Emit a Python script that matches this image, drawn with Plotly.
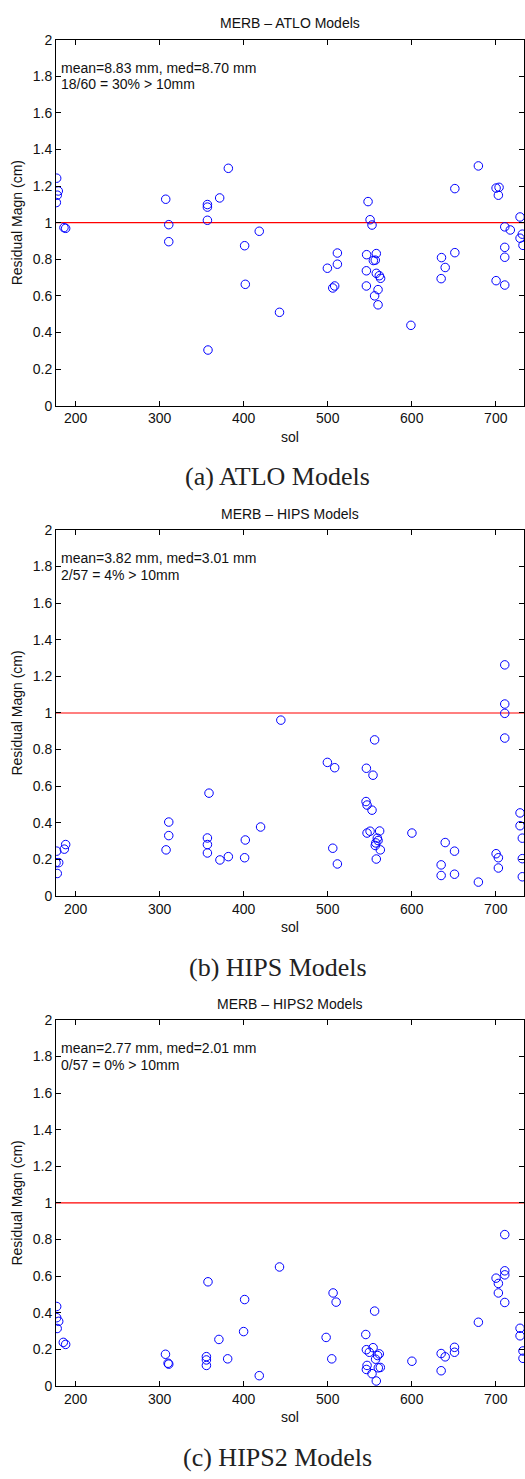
import plotly.graph_objects as go

# ---------------- data ----------------
sol_atlo = [177.4, 179.3, 178.1, 177.0, 186.1, 188.1,
            307.2, 310.8, 310.8,
            356.8, 356.8, 356.8, 357.5,
            371.4, 381.7, 401.1, 401.9, 418.5, 442.6,
            499.6, 511.5, 511.5, 506.0, 508.3,
            548.0, 550.4, 552.7, 546.3, 557.8, 554.3, 556.6, 546.0, 557.8, 561.4, 562.9, 546.0, 559.9, 555.8, 559.9,
            599.0,
            635.4, 639.8, 635.0, 651.3, 651.3,
            679.3,
            700.4, 703.9, 703.1, 710.7, 717.3, 710.7, 710.7, 700.4, 710.7,
            728.9, 728.9, 731.6, 732.4]
res_atlo = [1.243, 1.173, 1.150, 1.110, 0.973, 0.969,
            1.128, 0.989, 0.896,
            1.099, 1.085, 1.013, 0.304,
            1.135, 1.297, 0.874, 0.663, 0.953, 0.510,
            0.751, 0.834, 0.773, 0.643, 0.654,
            1.115, 1.016, 0.987, 0.825, 0.831, 0.793, 0.795, 0.737, 0.723, 0.710, 0.696, 0.654, 0.634, 0.600, 0.551,
            0.439,
            0.809, 0.755, 0.694, 0.836, 1.186,
            1.310,
            1.189, 1.193, 1.150, 0.977, 0.960, 0.865, 0.811, 0.683, 0.659,
            1.031, 0.915, 0.937, 0.876]

sol_hips = [177.4, 176.6, 179.8, 178.1, 186.5, 188.1,
            307.6, 310.8, 310.8,
            356.8, 356.8, 356.8, 358.7,
            371.7, 381.7, 401.9, 401.1, 420.1, 444.2,
            499.6, 508.3, 506.0, 511.5,
            555.8, 546.0, 553.9, 545.6, 546.8, 552.7, 546.8, 550.4, 561.8, 559.0, 559.9, 556.6, 562.6, 557.8, 557.2,
            600.2,
            639.8, 650.9, 635.0, 635.0, 650.9,
            679.3,
            700.4, 703.1, 703.1, 710.7, 710.7, 710.7, 710.7,
            728.9, 728.9, 731.6, 731.6, 731.6]
res_hips = [0.245, 0.182, 0.182, 0.123, 0.256, 0.281,
            0.252, 0.330, 0.404,
            0.317, 0.281, 0.235, 0.562,
            0.197, 0.215, 0.306, 0.209, 0.377, 0.961,
            0.730, 0.701, 0.261, 0.175,
            0.853, 0.698, 0.660, 0.516, 0.497, 0.469, 0.344, 0.354, 0.355, 0.316, 0.303, 0.276, 0.252, 0.202, 0.290,
            0.344,
            0.292, 0.245, 0.170, 0.112, 0.119,
            0.076,
            0.231, 0.209, 0.153, 1.263, 1.049, 0.998, 0.863,
            0.454, 0.384, 0.316, 0.204, 0.105]

sol_hips2 = [177.4, 177.4, 179.8, 178.0, 185.3, 188.1,
             306.9, 310.0, 310.8,
             357.5, 355.6, 355.6, 355.6,
             370.5, 380.9, 401.1, 399.9, 418.5, 442.6,
             498.1, 506.4, 510.0, 504.8,
             545.3, 546.0, 554.0, 549.5, 561.4, 559.4, 557.0, 546.8, 546.0, 560.2, 562.6, 552.7, 557.8, 555.8,
             600.2,
             635.0, 639.8, 635.0, 650.9, 650.9,
             679.3,
             700.4, 703.1, 703.1, 710.7, 710.7, 710.7, 710.7,
             728.9, 728.9, 732.4, 732.4]
res_hips2 = [0.434, 0.373, 0.353, 0.314, 0.238, 0.227,
             0.173, 0.124, 0.119,
             0.569, 0.160, 0.142, 0.112,
             0.254, 0.148, 0.472, 0.297, 0.056, 0.650,
             0.265, 0.508, 0.458, 0.148,
             0.281, 0.198, 0.209, 0.184, 0.175, 0.166, 0.146, 0.112, 0.090, 0.099, 0.101, 0.067, 0.027, 0.409,
             0.135,
             0.177, 0.159, 0.083, 0.211, 0.184,
             0.348,
             0.589, 0.560, 0.508, 0.827, 0.629, 0.607, 0.456,
             0.315, 0.274, 0.191, 0.151]

titles = ["MERB \u2013 ATLO Models", "MERB \u2013 HIPS Models", "MERB \u2013 HIPS2 Models"]
stats_line1 = ["mean=8.83 mm, med=8.70 mm", "mean=3.82 mm, med=3.01 mm", "mean=2.77 mm, med=2.01 mm"]
stats_line2 = ["18/60 = 30% > 10mm", "2/57 = 4% > 10mm", "0/57 = 0% > 10mm"]
captions = ["(a) ATLO Models", "(b) HIPS Models", "(c) HIPS2 Models"]
x_ticks = [200, 300, 400, 500, 600, 700]
y_ticks = [0, 0.2, 0.4, 0.6, 0.8, 1, 1.2, 1.4, 1.6, 1.8, 2]
threshold = 1.0

series = [(sol_atlo, res_atlo), (sol_hips, res_hips), (sol_hips2, res_hips2)]

# ---------------- layout geometry ----------------
W, H = 525, 1479
tops = [32, 527.7, 1023]
plot_h = 370
x_range = [176.6, 733.6]
FONT = "Liberation Sans, Arial, Helvetica, sans-serif"

fig = go.Figure()
layout = dict(
    width=W, height=H,
    margin=dict(l=56, r=0, t=0, b=0),
    paper_bgcolor="white", plot_bgcolor="white",
    showlegend=False,
    font=dict(family=FONT, size=14, color="#111"),
)
annotations = []
shapes = []

for i, (sx, sy) in enumerate(series):
    n = "" if i == 0 else str(i + 1)
    top = tops[i]
    bot = top + plot_h
    dom = [1 - bot / H, 1 - top / H]
    fig.add_trace(go.Scatter(
        x=sx, y=sy, mode="markers",
        xaxis="x" + n, yaxis="y" + n,
        marker=dict(symbol="circle-open", size=8.5, color="#0000ff",
                    line=dict(width=1, color="#0000ff")),
        cliponaxis=True,
    ))
    layout["xaxis" + n] = dict(
        domain=[0, 1], range=x_range, anchor="y" + n,
        tickvals=x_ticks, ticks="inside", ticklen=5, tickcolor="black",
        showline=True, linecolor="black", linewidth=1, mirror="ticks",
        showgrid=False, zeroline=False,
        title=dict(text="sol", standoff=6, font=dict(size=14)),
        tickfont=dict(size=14),
    )
    layout["yaxis" + n] = dict(
        domain=dom, range=[0, 2], anchor="x" + n,
        tickvals=y_ticks, ticks="inside", ticklen=5, tickcolor="black",
        showline=True, linecolor="black", linewidth=1, mirror="ticks",
        showgrid=False, zeroline=False,
        title=dict(text="Residual Magn (cm)", standoff=6, font=dict(size=14)),
        tickfont=dict(size=14),
    )
    shapes.append(dict(type="line", xref="x" + n + " domain", yref="y" + n,
                       x0=0, x1=1, y0=threshold, y1=threshold,
                       line=dict(color="red", width=1.2), layer="below"))
    # title
    annotations.append(dict(text=titles[i], xref="paper", yref="paper",
                            x=0.5, y=1 - (top - 16.5) / H, xanchor="center", yanchor="middle",
                            showarrow=False, font=dict(size=14)))
    # stats text
    annotations.append(dict(text=stats_line1[i], xref="x" + n + " domain", yref="paper",
                            x=0, xshift=3, y=1 - (top + 28.7) / H, xanchor="left", yanchor="middle",
                            showarrow=False, font=dict(size=14)))
    annotations.append(dict(text=stats_line2[i], xref="x" + n + " domain", yref="paper",
                            x=0, xshift=3, y=1 - (top + 45.3) / H, xanchor="left", yanchor="middle",
                            showarrow=False, font=dict(size=14)))
    # caption
    annotations.append(dict(text=captions[i], xref="paper", yref="paper",
                            x=(278 - 56) / (W - 56), y=1 - (bot + 72) / H,
                            xanchor="center", yanchor="middle", showarrow=False,
                            font=dict(family="Liberation Serif, Times New Roman, serif", size=26, color="#222")))

layout["annotations"] = annotations
layout["shapes"] = shapes
fig.update_layout(**layout)
fig.write_html("out.html")
